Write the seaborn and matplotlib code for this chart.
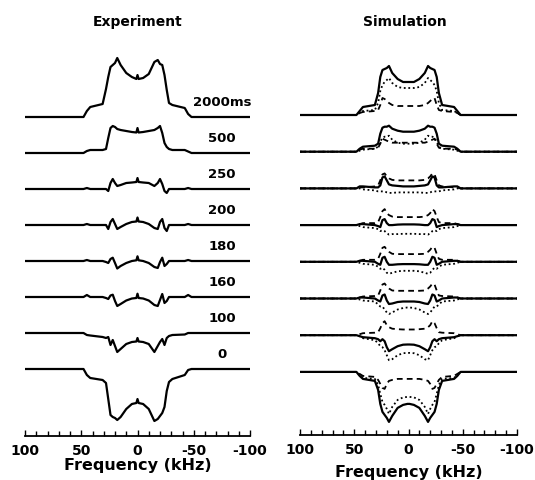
import numpy as np
import pandas as pd
import matplotlib
matplotlib.use('Agg')
import matplotlib.pyplot as plt
import seaborn as sns

sns.set_style('ticks')
plt.rcParams['font.family'] = ['DejaVu Sans']
plt.rcParams['text.color'] = 'black'
plt.rcParams['xtick.color'] = 'black'
plt.rcParams['axes.labelcolor'] = 'black'
plt.rcParams['axes.edgecolor'] = 'black'

freq = [100, 48, 45, 42, 31, 28, 26, 24, 22, 20, 18, 15, 10, 5, 1, 0,
        -1, -5, -10, -15, -18, -20, -22, -24, -26, -28, -31, -42, -45, -48, -100]

labels = ['2000ms', '500', '250', '200', '180', '160', '100', '0']

# experiment (intensity, arbitrary units)
exp_2000 = [0, 0, 6, 10, 13, 28, 40, 50, 52, 54, 59, 52, 44, 40, 38, 42, 38, 39, 43, 55, 57, 53, 52, 42, 27, 14, 12, 9, 3, 0, 0]
exp_500 = [0, 0, 2, 3, 3, 4, 15, 25, 27, 26, 24, 23, 22, 21, 20.5, 25, 20.5, 21, 22, 23, 25, 27, 20, 10, 6, 4, 3, 3, 1.5, 0, 0]
exp_250 = [0, 0, 1, 0, 0, 0, -2, 6, 10, 6, 3, 4, 6, 6.5, 7, 11, 7, 6.5, 6, 3, 6, 10, 5, -2, -4, 0, 0, 0, 1, 0, 0]
exp_200 = [0, 0, 1, 0, 0, 0, -4, 3, 6, 1, -4, -2, 1, 3, 3.5, 7.5, 3.5, 3, 1, -3, -4, 3, 6, -3, -6, 0, 0, 0, 1, 0, 0]
exp_180 = [0, 0, 1, 0, 0, -1, -2, 2, 3.3, -2, -7.5, -5, -2, 0, 0.7, 4.7, 0.7, 0, -2, -6, -7, -1, 3.3, -5, -3, 0, 0, 0, 1, 0, 0]
exp_160 = [0, 0, 2, 0, 0, -1, -2, 1.5, 2.3, -4, -9, -7, -3.5, -1.5, -1, 3.3, -1, -1.5, -3.5, -8, -9, -3, 3, -6, -4, 0, 0, 0, 2, 0, 0]
exp_100 = [0, 0, -2, -2.5, -4, -5, -4, -12, -7, -13, -19, -16, -11, -9, -8.5, -5, -8.5, -9, -11, -19, -13, -9, -6, -12, -5, -3, -2, -1.5, 0, 0, 0]
exp_0 = [0, 0, -6, -9, -11, -14, -30, -46, -48, -49, -51, -48, -40, -35, -34, -30, -34, -35, -40, -52, -50, -47, -44, -38, -22, -13, -10, -6, -1, 0, 0]

# simulation: total (solid), dotted and dashed components
sim_2000 = [0, 0, 4, 8, 10, 22, 38, 45, 46, 47, 49, 42, 36, 33, 33, 33, 33, 33, 36, 42, 49, 47, 46, 45, 38, 22, 10, 8, 4, 0, 0]
dot_2000 = [0, 0, 2, 4, 5, 12, 24, 30, 33, 35, 37, 32, 28, 27, 27, 27, 27, 27, 28, 32, 37, 35, 33, 30, 24, 12, 5, 4, 2, 0, 0]
dash_2000 = [0, 0, 2, 3, 4, 5, 10, 17, 16, 14, 12, 10, 9, 9, 9, 9, 9, 9, 9, 10, 12, 14, 16, 17, 10, 5, 4, 3, 2, 0, 0]

sim_500 = [0, 0, 3, 5, 6, 8, 18, 24, 25, 25, 26, 23, 21, 20, 20, 20, 20, 20, 21, 23, 26, 25, 25, 24, 18, 8, 6, 5, 3, 0, 0]
dot_500 = [0, 0, 1, 2, 3, 5, 10, 14, 15, 15, 16, 12, 9, 8, 8, 8, 8, 8, 9, 12, 16, 15, 15, 14, 10, 5, 3, 2, 1, 0, 0]
dash_500 = [0, 0, 2, 3, 3, 4, 8, 13, 12, 11, 10, 9, 9, 9, 9, 9, 9, 9, 9, 9, 10, 11, 12, 13, 8, 4, 3, 3, 2, 0, 0]

sim_250 = [0, 0, 2, 2, 1, 1, 3, 11, 12, 8, 4, 3, 2.5, 2, 2, 2, 2, 2, 2.5, 3, 4, 8, 12, 11, 3, 1, 1, 2, 2, 0, 0]
dot_250 = [0, 0, 0, -1, -2, -3, -3, -3, -3, -4, -4.5, -4.5, -4, -4, -4, -4, -4, -4, -4, -4.5, -4.5, -4, -3, -3, -3, -3, -2, -1, 0, 0, 0]
dash_250 = [0, 0, 1, 1, 2, 3, 8, 14, 15, 12, 10, 8.5, 8, 8, 8, 8, 8, 8, 8, 8.5, 10, 12, 15, 14, 8, 3, 2, 1, 1, 0, 0]

sim_200 = [0, 0, 1, 1, 0, -1, -2, 5, 6, 2, 0, 0, 0.5, 0.7, 0.7, 0.7, 0.7, 0.7, 0.5, 0, 0, 2, 6, 5, -2, -1, 0, 1, 1, 0, 0]
dot_200 = [0, 0, -1, -2, -3, -4, -6, -5, -6, -8, -9.5, -9, -9, -8.7, -8.7, -8.7, -8.7, -8.7, -9, -9, -9.5, -8, -6, -5, -6, -4, -3, -2, -1, 0, 0]
dash_200 = [0, 0, 1, 2, 2, 3, 8, 14, 16, 12, 10, 8.5, 8, 8, 8, 8, 8, 8, 8, 8.5, 10, 12, 16, 14, 8, 3, 2, 2, 1, 0, 0]

sim_180 = [0, 0, 1, 1, 0, -2, -3, 4, 5, 0, -3, -3, -2.5, -2.3, -2.3, -2.3, -2.3, -2.3, -2.5, -3, -3, 0, 5, 4, -3, -2, 0, 1, 1, 0, 0]
dot_180 = [0, 0, -1, -2, -3, -5, -7, -6, -8, -11, -12, -11, -9.5, -9, -9, -9, -9, -9, -9.5, -11, -12, -11, -8, -6, -7, -5, -3, -2, -1, 0, 0]
dash_180 = [0, 0, 1, 2, 2, 3, 8, 14, 15, 12, 10, 8, 7.7, 7.7, 7.7, 7.7, 7.7, 7.7, 7.7, 8, 10, 12, 15, 14, 8, 3, 2, 2, 1, 0, 0]

sim_160 = [0, 0, 1, 1, 0, -2, -3, 3, 4, -2, -5.5, -5, -3.5, -3, -3, -3, -3, -3, -3.5, -5, -5.5, -2, 4, 3, -3, -2, 0, 1, 1, 0, 0]
dot_160 = [0, 0, -1, -2, -3, -6, -8, -8, -11, -14, -15.5, -14, -11, -9.5, -9, -9, -9, -9.5, -11, -14, -15.5, -14, -11, -8, -8, -6, -3, -2, -1, 0, 0]
dash_160 = [0, 0, 1, 2, 2.5, 3, 8, 14, 15, 12, 10, 8, 7.7, 7.7, 7.7, 7.7, 7.7, 7.7, 7.7, 8, 10, 12, 15, 14, 8, 3, 2.5, 2, 1, 0, 0]

sim_100 = [0, 0, -1, -2, -3, -4, -6, -4, -6, -12, -16, -14, -11, -9.5, -9.3, -9.3, -9.3, -9.5, -11, -14, -16, -12, -6, -4, -6, -4, -3, -2, -1, 0, 0]
dot_100 = [0, 0, -1, -3, -5, -8, -11, -12, -15, -20, -25, -24, -20, -18, -17.7, -17.7, -17.7, -18, -20, -24, -25, -20, -15, -12, -11, -8, -5, -3, -1, 0, 0]
dash_100 = [0, 0, 1, 2, 2.5, 3, 7, 12, 14, 10, 8, 6.5, 6, 5.7, 5.7, 5.7, 5.7, 5.7, 6, 6.5, 8, 10, 14, 12, 7, 3, 2.5, 2, 1, 0, 0]

sim_0 = [0, 0, -4, -7, -9, -18, -32, -40, -43, -46, -50, -44, -36, -33, -32, -32, -32, -33, -36, -44, -50, -46, -43, -40, -32, -18, -9, -7, -4, 0, 0]
dot_0 = [0, 0, -3, -6, -7, -13, -22, -30, -33, -37, -42, -35, -28, -25.5, -25, -25, -25, -25.5, -28, -35, -42, -37, -33, -30, -22, -13, -7, -6, -3, 0, 0]
dash_0 = [0, 0, -2, -4, -5, -8, -12, -16, -17, -12, -9, -8, -7, -7, -7, -7, -7, -7, -7, -8, -9, -12, -17, -16, -12, -8, -5, -4, -2, 0, 0]

exp_traces = [exp_2000, exp_500, exp_250, exp_200, exp_180, exp_160, exp_100, exp_0]
sim_traces = [sim_2000, sim_500, sim_250, sim_200, sim_180, sim_160, sim_100, sim_0]
dot_traces = [dot_2000, dot_500, dot_250, dot_200, dot_180, dot_160, dot_100, dot_0]
dash_traces = [dash_2000, dash_500, dash_250, dash_200, dash_180, dash_160, dash_100, dash_0]

W, H = 535, 481
fig = plt.figure(figsize=(W / 100, H / 100), dpi=100)

# axes in pixel terms: y data are pixels from the figure bottom
ax1 = fig.add_axes([25 / W, 44 / H, 225 / W, 397 / H])
ax2 = fig.add_axes([300 / W, 45 / H, 217 / W, 396 / H])
ax1.set_ylim(44, 441)
ax2.set_ylim(45, 441)

def build(trace_sets, top, step):
    rows = []
    for comp, traces in trace_sets.items():
        for i, tr in enumerate(traces):
            base = top - i * step
            for f, v in zip(freq, tr):
                rows.append((labels[i], comp, f, base + v))
    return pd.DataFrame(rows, columns=['trace', 'comp', 'freq', 'y'])

exp_top, exp_step = H - 118, 36.0
sim_top, sim_step = H - 116, 36.7

df_exp = build({'total': exp_traces}, exp_top, exp_step)
df_sim = build({'dash': dash_traces, 'dot': dot_traces, 'total': sim_traces}, sim_top, sim_step)

sns.lineplot(data=df_exp, x='freq', y='y', units='trace', estimator=None,
             sort=False, color='black', lw=1.6, ax=ax1, legend=False)
sns.lineplot(data=df_sim, x='freq', y='y', units='trace', estimator=None,
             style='comp', dashes={'total': '', 'dot': (1, 1.5), 'dash': (3.2, 2.3)},
             sort=False, color='black', lw=1.3, ax=ax2, legend=False)
for line in ax2.get_lines():
    if line.get_linestyle() == '-':
        line.set_linewidth(1.6)

for i, lab in enumerate(labels):
    ax1.text(-75, exp_top - i * exp_step + 15, lab, ha='center', va='center',
             fontsize=9.5, fontweight='bold')

for ax, lp in [(ax1, 0), (ax2, 6)]:
    ax.set_xlim(100, -100)
    ax.set_xticks([100, 50, 0, -50, -100])
    ax.set_xticklabels(['100', '50', '0', '-50', '-100'], fontweight='bold', fontsize=10)
    ax.set_xticks(np.arange(-90, 100, 10), minor=True)
    ax.tick_params(axis='x', which='both', direction='in', width=1, pad=5, colors='black')
    ax.tick_params(axis='x', which='major', length=4)
    ax.tick_params(axis='x', which='minor', length=3.5)
    ax.set_yticks([])
    ax.set_ylabel('')
    ax.set_xlabel('Frequency (kHz)', fontsize=11.5, fontweight='bold', labelpad=lp, color='black')
    for s in ['left', 'right', 'top']:
        ax.spines[s].set_visible(False)
    ax.spines['bottom'].set_linewidth(1.3)
    ax.spines['bottom'].set_color('black')
    ax.patch.set_alpha(0)

fig.text(138 / W, 1 - 22 / H, 'Experiment', ha='center', va='center', fontsize=10, fontweight='bold', color='black')
fig.text(405 / W, 1 - 22 / H, 'Simulation', ha='center', va='center', fontsize=10, fontweight='bold', color='black')

fig.savefig('out.png', dpi=100)
